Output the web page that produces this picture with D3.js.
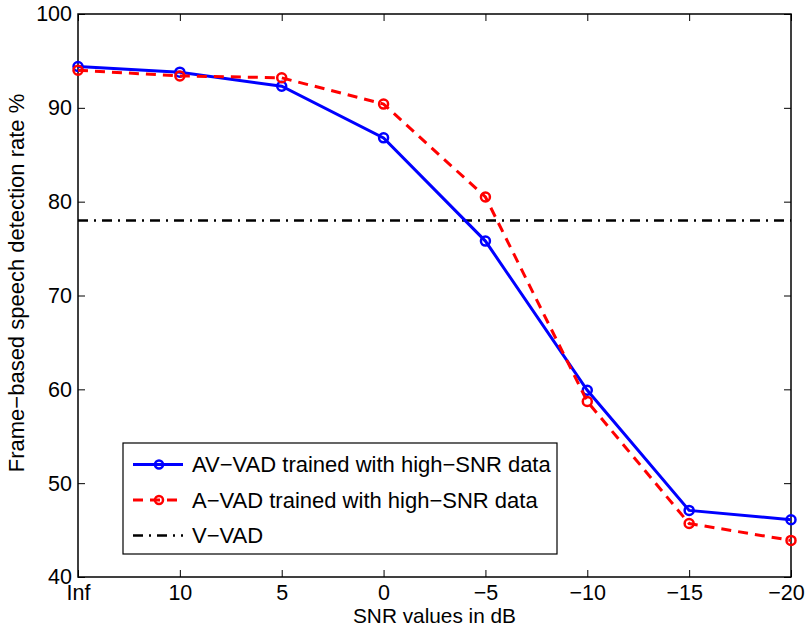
<!DOCTYPE html>
<html>
<head>
<meta charset="utf-8">
<script src="https://cdn.jsdelivr.net/npm/d3@7"></script>
<style>
  body { margin: 0; background: #fff; }
  text { font-family: "Liberation Sans", Arial, sans-serif; fill: #000; }
</style>
</head>
<body>
<script>
    const snrLabels = ["Inf", "10", "5", "0", "\u22125", "\u221210", "\u221215", "\u221220"];
    const avVad = [94.4, 93.8, 92.3, 86.8, 75.8, 59.9, 47.1, 46.1];
    const aVad = [94.0, 93.4, 93.2, 90.4, 80.5, 58.7, 45.7, 43.9];
    const vVad = 78.0;
    const yTicks = [40, 50, 60, 70, 80, 90, 100];

    const w = 806, h = 629;
    const plot = { left: 78, right: 791, top: 14, bottom: 577 };

    const svg = d3.select("body")
        .append("svg")
        .attr("width", w)
        .attr("height", h);

    // Scales
    const xScale = d3.scalePoint()
        .domain(snrLabels)
        .range([plot.left, plot.right]);

    const yScale = d3.scaleLinear()
        .domain([40, 100])
        .range([plot.bottom, plot.top]);

    // Axes (MATLAB style: inward ticks, box)
    const xAxis = d3.axisBottom(xScale).tickSizeInner(-7).tickSizeOuter(0).tickPadding(8);
    const yAxis = d3.axisLeft(yScale).tickValues(yTicks).tickSizeInner(-7).tickSizeOuter(0).tickPadding(6);

    const gx = svg.append("g")
        .attr("transform", `translate(0, ${plot.bottom})`)
        .call(xAxis);
    const gy = svg.append("g")
        .attr("transform", `translate(${plot.left}, 0)`)
        .call(yAxis);

    // Top and right ticks
    svg.append("g")
        .attr("transform", `translate(0, ${plot.top})`)
        .call(d3.axisTop(xScale).tickSizeInner(-7).tickSizeOuter(0).tickFormat(""));
    svg.append("g")
        .attr("transform", `translate(${plot.right}, 0)`)
        .call(d3.axisRight(yScale).tickValues(yTicks).tickSizeInner(-7).tickSizeOuter(0).tickFormat(""));

    svg.selectAll(".domain").remove();
    svg.selectAll(".tick line").attr("stroke", "#000").attr("stroke-width", 1);
    svg.selectAll(".tick text").attr("font-size", 21.5).attr("font-family", "Liberation Sans, Arial, sans-serif");
    gx.selectAll(".tick text")
        .attr("dy", "0.71em")
        .attr("dx", d => (d === "\u221215" || d === "\u221220") ? -5 : 0);

    svg.append("rect")
        .attr("x", plot.left)
        .attr("y", plot.top)
        .attr("width", plot.right - plot.left)
        .attr("height", plot.bottom - plot.top)
        .attr("fill", "none")
        .attr("stroke", "#000")
        .attr("stroke-width", 1.5);

    // Axis labels
    svg.append("text")
        .attr("x", (plot.left + plot.right) / 2)
        .attr("y", 623)
        .attr("text-anchor", "middle")
        .attr("font-size", 20.8)
        .text("SNR values in dB");

    svg.append("text")
        .attr("transform", "translate(24, 283) rotate(-90)")
        .attr("text-anchor", "middle")
        .attr("font-size", 22)
        .text("Frame\u2212based speech detection rate %");

    // V-VAD reference line
    svg.append("line")
        .attr("x1", plot.left)
        .attr("x2", plot.right)
        .attr("y1", yScale(vVad))
        .attr("y2", yScale(vVad))
        .attr("stroke", "#000")
        .attr("stroke-width", 2.5)
        .attr("stroke-dasharray", "10,6,2,6");

    const line = d3.line()
        .x((d, i) => xScale(snrLabels[i]))
        .y(d => yScale(d));

    const series = [
        { values: avVad, color: "#0000ff", dash: null },
        { values: aVad, color: "#ff0000", dash: "10,7" }
    ];

    series.forEach(s => {
        svg.append("path")
            .datum(s.values)
            .attr("d", line)
            .attr("fill", "none")
            .attr("stroke", s.color)
            .attr("stroke-width", 3)
            .attr("stroke-dasharray", s.dash);

        svg.selectAll(null)
            .data(s.values)
            .enter()
            .append("circle")
            .attr("cx", (d, i) => xScale(snrLabels[i]))
            .attr("cy", d => yScale(d))
            .attr("r", 4.5)
            .attr("fill", "none")
            .attr("stroke", s.color)
            .attr("stroke-width", 2.5);
    });

    // Legend
    const legend = svg.append("g").attr("transform", "translate(123, 443)");
    legend.append("rect")
        .attr("width", 434)
        .attr("height", 111)
        .attr("fill", "#fff")
        .attr("stroke", "#000")
        .attr("stroke-width", 1.2);

    const legendItems = [
        { label: "AV\u2212VAD trained with high\u2212SNR data", color: "#0000ff", dash: null, marker: true },
        { label: "A\u2212VAD trained with high\u2212SNR data", color: "#ff0000", dash: "10,7", marker: true },
        { label: "V\u2212VAD", color: "#000", dash: "10,6,2,6", marker: false }
    ];

    legendItems.forEach((item, i) => {
        const cy = 21.5 + i * 35.5;
        legend.append("line")
            .attr("x1", 10).attr("x2", 60)
            .attr("y1", cy).attr("y2", cy)
            .attr("stroke", item.color)
            .attr("stroke-width", item.marker ? 3 : 2.5)
            .attr("stroke-dasharray", item.dash);
        if (item.marker) {
            legend.append("circle")
                .attr("cx", 36).attr("cy", cy).attr("r", 4)
                .attr("fill", "none")
                .attr("stroke", item.color)
                .attr("stroke-width", 2.5);
        }
        legend.append("text")
            .attr("x", 69)
            .attr("y", cy + 7.5)
            .attr("font-size", 22)
            .text(item.label);
    });
</script>
</body>
</html>
